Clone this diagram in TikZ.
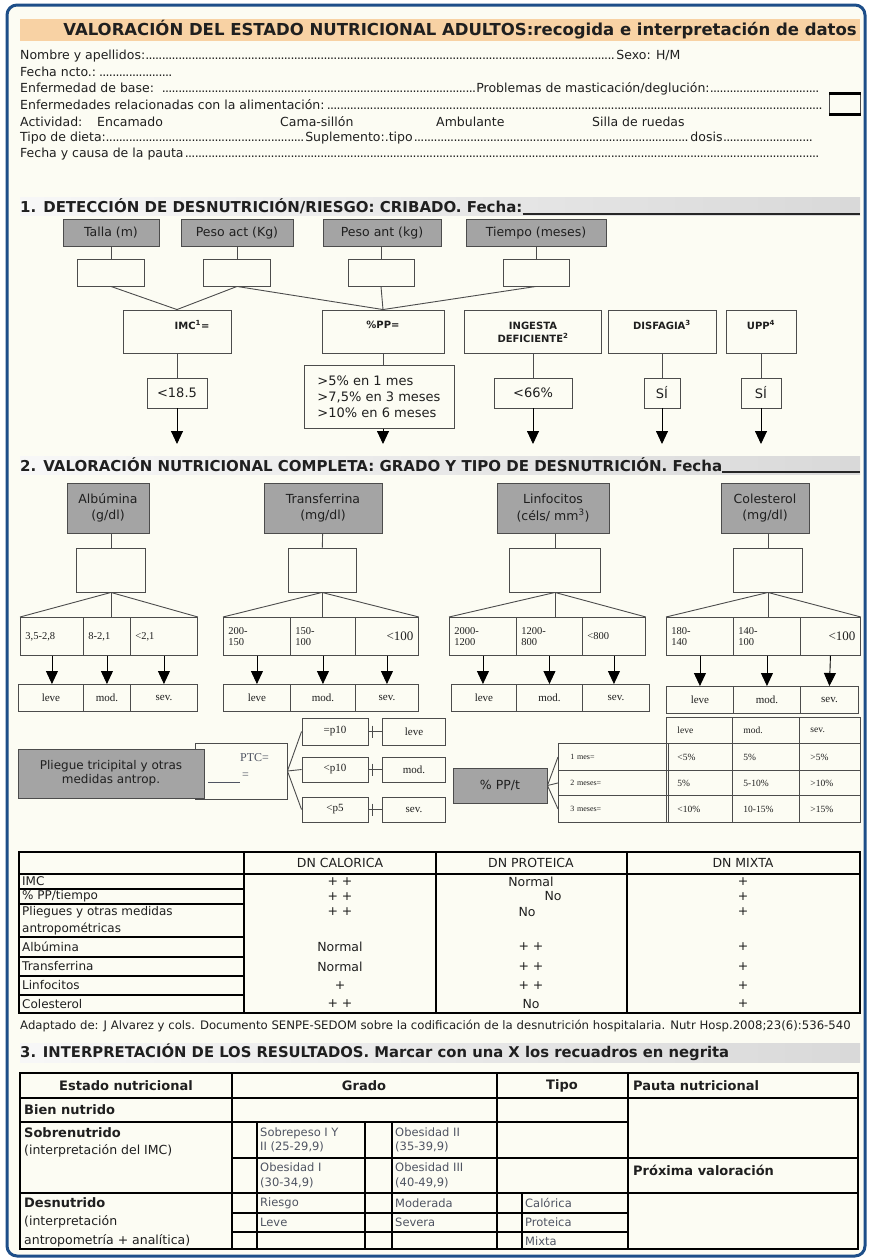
\documentclass[tikz,border=0pt]{standalone}
\usepackage{fontspec}
\setmainfont{DejaVu Sans}
\newfontfamily\tnr{Liberation Serif}
\usetikzlibrary{arrows.meta}

\definecolor{frameblue}{HTML}{1D4E89}
\definecolor{paper}{HTML}{FCFCF3}
\definecolor{peach}{HTML}{F8D2A4}
\definecolor{boxgray}{HTML}{A4A4A4}
\definecolor{inkgray}{HTML}{4F5462}

\newcommand\fsz[1]{\fontsize{#1}{#1}\selectfont}
\newcommand\dotsto{\leaders\hbox to 3.3pt{\hss.\hss}\hfill}

\begin{document}
\begin{tikzpicture}[x=1pt, y=-1pt, >={Triangle[width=12pt,length=13pt]},
  every node/.style={inner sep=0pt, font=\fsz{12.5}, text=black!88},
  txt/.style={anchor=west},
  gbox/.style={draw=black!70, line width=0.9pt, fill=boxgray, align=center, font=\fsz{12.5}},
  wbox/.style={draw=black!70, line width=0.9pt},
  bhead/.style={anchor=west, font=\bfseries\fsz{15}},
  btxt/.style={font=\bfseries\fsz{10}, align=center},
  rcell/.style={draw=black!70, line width=0.9pt, font=\tnr\fsz{10.5}, align=left, inner xsep=5pt, minimum height=38pt, anchor=north west},
  lcell/.style={draw=black!70, line width=0.9pt, font=\tnr\fsz{11}, minimum height=27pt, anchor=north west},
  qcell/.style={draw=black!70, line width=0.9pt, font=\tnr\fsz{9.5}, align=left, inner xsep=11pt, anchor=north west},
  ln/.style={draw=black!70, line width=0.9pt},
  tri/.style={draw=black, line width=0.9pt, ->},
  tab/.style={draw=black, line width=2pt},
  thin/.style={draw=black, line width=1.2pt},
  gtxt/.style={anchor=west, align=left, font=\fsz{11.5}, text=inkgray},
]
% background and frame
\fill[white] (0,0) rectangle (869,1259);
\draw[frameblue, line width=3pt, fill=paper, rounded corners=10pt] (7,5) rectangle (865,1256);
\useasboundingbox (0,0) rectangle (869,1259);

% title and patient data
\fill[peach] (20,19) rectangle (860,41);
\node[anchor=east, font=\bfseries\fsz{16.5}] (titulo) at (857,30) {VALORACIÓN DEL ESTADO NUTRICIONAL ADULTOS:recogida e interpretación de datos};
\node[txt] (nombre) at (20,56) {\makebox[660pt][l]{Nombre y apellidos:\dotsto Sexo: H/M}};
\node[txt] (fncto) at (20,72) {\makebox[155pt][l]{Fecha ncto.:\dotsto}};
\node[txt] (enfbase) at (20,88.5) {\makebox[800pt][l]{\makebox[456pt][l]{Enfermedad de base: \dotsto}Problemas de masticación/deglución:\dotsto}};
\node[txt] (enfrel) at (20,105) {\makebox[802pt][l]{Enfermedades relacionadas con la alimentación:\dotsto}};
\node[txt] (activ) at (20,121.5) {Actividad:};
\node[txt] (encam) at (97,121.5) {Encamado};
\node[txt] (cama) at (280,121.5) {Cama-sillón};
\node[txt] (ambul) at (436,121.5) {Ambulante};
\node[txt] (silla) at (592,121.5) {Silla de ruedas};
\node[txt] (dieta) at (20,138) {\makebox[795pt][l]{\makebox[285pt][l]{Tipo de dieta:\dotsto}\makebox[385pt][l]{Suplemento:.tipo\dotsto}dosis\dotsto}};
\node[txt] (causa) at (20,154.5) {\makebox[800pt][l]{Fecha y causa de la pauta\dotsto}};
\node[draw=black!70, line width=0.8pt, minimum width=31pt, minimum height=20pt] (casilla) at (845,104) {};
\draw[line width=2.5pt] (casilla.north west) -- (casilla.north east);
\draw[line width=2.5pt] (casilla.south west) -- (casilla.south east);

% 1. cribado
\shade[left color=gray!6, right color=gray!30] (20,197) rectangle (860,215);
\node[bhead] (sec1) at (20,206) {1. DETECCIÓN DE DESNUTRICIÓN/RIESGO: CRIBADO. Fecha:};
\coordinate (fin1) at (860,214);
\draw[line width=1.6pt, black!85] (sec1.south east) -- (sec1.south east -| fin1);

\node[gbox, minimum width=96pt, minimum height=27pt] (talla) at (111,233) {Talla (m)};
\node[gbox, minimum width=112pt, minimum height=27pt] (pesoact) at (237,233) {Peso act (Kg)};
\node[gbox, minimum width=118pt, minimum height=27pt] (pesoant) at (382,233) {Peso ant (kg)};
\node[gbox, minimum width=140pt, minimum height=27pt] (tiempo) at (536,233) {Tiempo (meses)};
\node[wbox, minimum width=67pt, minimum height=27pt] (wtalla) at (111,272.5) {};
\node[wbox, minimum width=67pt, minimum height=27pt] (wpesoact) at (237,272.5) {};
\node[wbox, minimum width=66pt, minimum height=27pt] (wpesoant) at (381,272.5) {};
\node[wbox, minimum width=66pt, minimum height=27pt] (wtiempo) at (536,272.5) {};
\draw[ln] (talla) -- (wtalla);
\draw[ln] (pesoact) -- (wpesoact);
\draw[ln] (pesoant.south -| wpesoant) -- (wpesoant);
\draw[ln] (tiempo) -- (wtiempo);

\node[wbox, minimum width=108pt, minimum height=43pt] (imc) at (177,331.5) {};
\node[wbox, minimum width=122pt, minimum height=43pt] (pp) at (383,331.5) {};
\node[wbox, minimum width=137pt, minimum height=43pt] (ingesta) at (533,331.5) {};
\node[wbox, minimum width=108pt, minimum height=43pt] (disfagia) at (662,331.5) {};
\node[wbox, minimum width=70pt, minimum height=43pt] (upp) at (761,331.5) {};
\node[btxt] (imct) at (192,325) {IMC\textsuperscript{1}=};
\node[btxt] (ppt) at (383,325) {\%PP=};
\node[btxt] (ingestat) at (533,332) {INGESTA\\[3pt]DEFICIENTE\textsuperscript{2}};
\node[btxt] (disfagiat) at (662,325) {DISFAGIA\textsuperscript{3}};
\node[btxt] (uppt) at (761,325) {UPP\textsuperscript{4}};
\draw[ln] (wtalla.south) -- (imc.north);
\draw[ln] (wpesoact.south) -- (imc.north);
\draw[ln] (wpesoact.south) -- (pp.north);
\draw[ln] (wpesoant.south) -- (pp.north);
\draw[ln] (wtiempo.south) -- (pp.north);

\node[wbox, minimum width=60pt, minimum height=30pt, font=\fsz{13}] (imcv) at (177,393) {<18.5};
\node[wbox, minimum width=150pt, minimum height=63pt, align=left, font=\fsz{13}] (ppv) at (379,397) {>5\% en 1 mes\\[3pt]>7,5\% en 3 meses\\[3pt]>10\% en 6 meses};
\node[wbox, minimum width=78pt, minimum height=30pt, font=\fsz{13}] (ingestav) at (533,393) {<66\%};
\node[wbox, minimum width=36pt, minimum height=30pt, font=\fsz{13}] (disfagiav) at (662,393) {SÍ};
\node[wbox, minimum width=40pt, minimum height=30pt, font=\fsz{13}] (uppv) at (761,393) {SÍ};
\draw[ln] (imc) -- (imcv);
\draw[ln] (pp.south) -- (pp.south |- ppv.north);
\draw[ln] (ingesta) -- (ingestav);
\draw[ln] (disfagia) -- (disfagiav);
\draw[ln] (upp) -- (uppv);
\coordinate (f1) at (177,444);
\coordinate (f2) at (383,444);
\coordinate (f3) at (533,444);
\coordinate (f4) at (662,444);
\coordinate (f5) at (761,444);
\draw[tri] (imcv) -- (f1);
\draw[tri] (ppv.south -| f2) -- (f2);
\draw[tri] (ingestav) -- (f3);
\draw[tri] (disfagiav) -- (f4);
\draw[tri] (uppv) -- (f5);

% 2. valoracion completa
\shade[left color=gray!6, right color=gray!30] (20,456) rectangle (860,474);
\node[bhead] (sec2) at (20,465) {2. VALORACIÓN NUTRICIONAL COMPLETA: GRADO Y TIPO DE DESNUTRICIÓN. Fecha};
\coordinate (fin2) at (860,473);
\draw[line width=1.6pt, black!85] (sec2.south east) -- (sec2.south east -| fin2);

\node[gbox, minimum width=82pt, minimum height=50pt] (albumina) at (108,508) {Albúmina\\[4pt](g/dl)};
\node[gbox, minimum width=118pt, minimum height=50pt] (transf) at (323,508) {Transferrina\\[4pt](mg/dl)};
\node[gbox, minimum width=112pt, minimum height=50pt] (linfo) at (553,508) {Linfocitos\\[4pt](céls/ mm\textsuperscript{3})};
\node[gbox, minimum width=88pt, minimum height=50pt] (coles) at (765,508) {Colesterol\\[4pt](mg/dl)};
\node[wbox, minimum width=69pt, minimum height=44pt] (walb) at (111,570) {};
\node[wbox, minimum width=68pt, minimum height=44pt] (wtra) at (322,570) {};
\node[wbox, minimum width=91pt, minimum height=44pt] (wlin) at (555,570) {};
\node[wbox, minimum width=69pt, minimum height=44pt] (wcol) at (768,570) {};
\draw[ln] (albumina.south -| walb) -- (walb);
\draw[ln] (transf) -- (wtra);
\draw[ln] (linfo.south -| wlin) -- (wlin);
\draw[ln] (coles.south -| wcol) -- (wcol);

% rangos
\node[rcell, text width=53pt] (ra1) at (20,617) {3,5-2,8};
\node[rcell, text width=37pt] (ra2) at (83,617) {8-2,1};
\node[rcell, text width=57pt] (ra3) at (130,617) {<2,1};
\node[rcell, text width=57pt] (rt1) at (223,617) {200-\\150};
\node[rcell, text width=55pt] (rt2) at (290,617) {150-\\100};
\node[rcell, text width=53pt, font=\tnr\fsz{13}] (rt3) at (355,617) {\hfill<100};
\node[rcell, text width=57pt] (rl1) at (449,617) {2000-\\1200};
\node[rcell, text width=56pt] (rl2) at (516,617) {1200-\\800};
\node[rcell, text width=53pt] (rl3) at (582,617) {<800};
\node[rcell, text width=57pt] (rc1) at (666,617) {180-\\140};
\node[rcell, text width=57pt] (rc2) at (733,617) {140-\\100};
\node[rcell, text width=50pt, font=\tnr\fsz{13}] (rc3) at (800,617) {\hfill<100};
\draw[ln] (walb.south) -- (ra1.north west);
\draw[ln] (walb.south) -- (walb.south |- ra2.north);
\draw[ln] (walb.south) -- (ra3.north east);
\draw[ln] (wtra.south) -- (rt1.north west);
\draw[ln] (wtra.south) -- (wtra.south |- rt2.north);
\draw[ln] (wtra.south) -- (rt3.north east);
\draw[ln] (wlin.south) -- (rl1.north west);
\draw[ln] (wlin.south) -- (wlin.south |- rl2.north);
\draw[ln] (wlin.south) -- (rl3.north east);
\draw[ln] (wcol.south) -- (rc1.north west);
\draw[ln] (wcol.south) -- (wcol.south |- rc2.north);
\draw[ln] (wcol.south) -- (rc3.north east);

% grados
\node[lcell, minimum width=65pt] (ga1) at (18,684) {leve};
\node[lcell, minimum width=47pt] (ga2) at (83,684) {mod.};
\node[lcell, minimum width=67pt] (ga3) at (130,684) {sev.};
\node[lcell, minimum width=67pt] (gt1) at (223,684) {leve};
\node[lcell, minimum width=65pt] (gt2) at (290,684) {mod.};
\node[lcell, minimum width=63pt] (gt3) at (355,684) {sev.};
\node[lcell, minimum width=65pt] (gl1) at (451,684) {leve};
\node[lcell, minimum width=66pt] (gl2) at (516,684) {mod.};
\node[lcell, minimum width=67pt] (gl3) at (582,684) {sev.};
\node[lcell, minimum width=67pt] (gc1) at (666,686) {leve};
\node[lcell, minimum width=67pt] (gc2) at (733,686) {mod.};
\node[lcell, minimum width=58pt] (gc3) at (800,686) {sev.};
\draw[tri] (ra1.south) -- (ra1.south |- ga1.north);
\draw[tri] (ra2.south) -- (ra2.south |- ga2.north);
\draw[tri] (ra3.south) -- (ra3.south |- ga3.north);
\draw[tri] (rt1.south) -- (gt1.north);
\draw[tri] (rt2.south) -- (gt2.north);
\draw[tri] (rt3.south) -- (gt3.north);
\draw[tri] (rl1.south) -- (rl1.south |- gl1.north);
\draw[tri] (rl2.south) -- (gl2.north);
\draw[tri] (rl3.south) -- (rl3.south |- gl3.north);
\draw[tri] (rc1.south) -- (gc1.north);
\draw[tri] (rc2.south) -- (gc2.north);
\draw[tri] (rc3.south) -- (gc3.north);

% pliegue tricipital
\node[wbox, minimum width=92pt, minimum height=56pt] (ptc) at (241,771) {};
\node[gbox, minimum width=186pt, minimum height=49pt, font=\fsz{12}] (pliegue) at (111,773.5) {Pliegue tricipital y otras\\[2pt]medidas antrop.};
\node[anchor=west, font=\tnr\fsz{12}, text=inkgray] (ptct) at (240,758) {PTC=};
\node[anchor=west, font=\tnr\fsz{12}, text=inkgray] (ptcr) at (208,778) {\rule[-4pt]{32pt}{0.7pt}\,=};
\node[wbox, minimum width=66pt, minimum height=27pt, font=\tnr\fsz{11}] (p10a) at (335,731.5) {=p10};
\node[wbox, minimum width=66pt, minimum height=25pt, font=\tnr\fsz{11}] (p10b) at (335,769.5) {<p10};
\node[wbox, minimum width=66pt, minimum height=25pt, font=\tnr\fsz{11}] (p5) at (335,809.5) {<p5};
\node[wbox, minimum width=63pt, minimum height=27pt, font=\tnr\fsz{11}] (pleve) at (414,731.5) {leve};
\node[wbox, minimum width=63pt, minimum height=25pt, font=\tnr\fsz{11}] (pmod) at (414,769.5) {mod.};
\node[wbox, minimum width=63pt, minimum height=25pt, font=\tnr\fsz{11}] (psev) at (414,809.5) {sev.};
\draw[ln] (ptc.east) -- (p10a.west);
\draw[ln] (ptc.east) -- (p10b.west);
\draw[ln] (ptc.east) -- (p5.west);
\draw[ln] (p10a) -- (pleve);
\draw[ln] (p10b) -- (pmod);
\draw[ln] (p5) -- (psev);
\draw[ln] ([xshift=4pt]p10a.east) ++(0,-6) -- ++(0,12);
\draw[ln] ([xshift=4pt]p10b.east) ++(0,-6) -- ++(0,12);
\draw[ln] ([xshift=4pt]p5.east) ++(0,-6) -- ++(0,12);

% perdida de peso / tiempo
\node[gbox, minimum width=94pt, minimum height=35pt, font=\fsz{12.5}] (ppt) at (500,785.5) {\% PP/t};
\node[qcell, minimum width=108pt, minimum height=27pt, text width=86pt, inner xsep=12pt, font=\tnr\fsz{8}] (mes1) at (558,743) {1 mes=};
\node[qcell, minimum width=108pt, minimum height=25pt, text width=86pt, inner xsep=12pt, font=\tnr\fsz{8}] (mes2) at (558,770) {2 meses=};
\node[qcell, minimum width=108pt, minimum height=27pt, text width=86pt, inner xsep=12pt, font=\tnr\fsz{8}] (mes3) at (558,795) {3 meses=};
\draw[ln] (ppt.east) -- (mes1.west);
\draw[ln] (ppt.east) -- (mes2.west);
\draw[ln] (ppt.east) -- (mes3.west);
\node[qcell, minimum height=26pt, text width=44pt] (qh1) at (666,717) {leve};
\node[qcell, minimum height=26pt, text width=45pt] (qh2) at (732,717) {mod.};
\node[qcell, minimum height=26pt, text width=39pt] (qh3) at (799,717) {sev.};
\node[qcell, minimum height=27pt, text width=44pt] (q11) at (666,743) {<5\%};
\node[qcell, minimum height=27pt, text width=45pt] (q12) at (732,743) {5\%};
\node[qcell, minimum height=27pt, text width=39pt] (q13) at (799,743) {>5\%};
\node[qcell, minimum height=25pt, text width=44pt] (q21) at (666,770) {5\%};
\node[qcell, minimum height=25pt, text width=45pt] (q22) at (732,770) {5-10\%};
\node[qcell, minimum height=25pt, text width=39pt] (q23) at (799,770) {>10\%};
\node[qcell, minimum height=27pt, text width=44pt] (q31) at (666,795) {<10\%};
\node[qcell, minimum height=27pt, text width=45pt] (q32) at (732,795) {10-15\%};
\node[qcell, minimum height=27pt, text width=39pt] (q33) at (799,795) {>15\%};

% tabla de tipos de desnutricion
\draw[tab] (19,852) rectangle (860,1013);
\draw[tab] (244,852) -- (244,1013);
\draw[tab] (436,852) -- (436,1013);
\draw[tab] (627,852) -- (627,1013);
\draw[tab] (19,874) -- (860,874);
\draw[thin] (19,889) -- (244,889);
\draw[thin] (19,904) -- (244,904);
\draw[thin] (19,937) -- (244,937);
\draw[thin] (19,957) -- (244,957);
\draw[thin] (19,976) -- (244,976);
\draw[thin] (19,995) -- (244,995);
\node[font=\fsz{12.5}] (dncal) at (340,863) {DN CALORICA};
\node[font=\fsz{12.5}] (dnpro) at (531,863) {DN PROTEICA};
\node[font=\fsz{12.5}] (dnmix) at (743,863) {DN MIXTA};
\node[txt, font=\fsz{12}] (timc) at (22,881.5) {IMC};
\node[txt, font=\fsz{12}] (tpp) at (22,896.5) {\% PP/tiempo};
\node[txt, font=\fsz{12}, align=left] (tpli) at (22,920.5) {Pliegues y otras medidas\\[4pt]antropométricas};
\node[txt, font=\fsz{12}] (talb) at (22,947) {Albúmina};
\node[txt, font=\fsz{12}] (ttra) at (22,966.5) {Transferrina};
\node[txt, font=\fsz{12}] (tlin) at (22,985.5) {Linfocitos};
\node[txt, font=\fsz{12}] (tcol) at (22,1004) {Colesterol};
\node[font=\fsz{12.5}] (c1) at (340,881.5) {+ +};
\node[font=\fsz{12.5}] (c2) at (340,896.5) {+ +};
\node[font=\fsz{12.5}] (c3) at (340,912) {+ +};
\node[font=\fsz{12.5}] (c4) at (340,947) {Normal};
\node[font=\fsz{12.5}] (c5) at (340,966.5) {Normal};
\node[font=\fsz{12.5}] (c6) at (340,985.5) {+};
\node[font=\fsz{12.5}] (c7) at (340,1004) {+ +};
\node[font=\fsz{12.5}] (p1) at (531,881.5) {Normal};
\node[font=\fsz{12.5}] (p2) at (553,896.5) {No};
\node[font=\fsz{12.5}] (p3) at (527,912) {No};
\node[font=\fsz{12.5}] (p4) at (531,947) {+ +};
\node[font=\fsz{12.5}] (p5) at (531,966.5) {+ +};
\node[font=\fsz{12.5}] (p6) at (531,985.5) {+ +};
\node[font=\fsz{12.5}] (p7) at (531,1004) {No};
\node[font=\fsz{12.5}] (m1) at (743,881.5) {+};
\node[font=\fsz{12.5}] (m2) at (743,896.5) {+};
\node[font=\fsz{12.5}] (m3) at (743,912) {+};
\node[font=\fsz{12.5}] (m4) at (743,947) {+};
\node[font=\fsz{12.5}] (m5) at (743,966.5) {+};
\node[font=\fsz{12.5}] (m6) at (743,985.5) {+};
\node[font=\fsz{12.5}] (m7) at (743,1004) {+};
\node[txt, font=\fsz{11.7}] (fuente) at (20,1026) {Adaptado de: J Alvarez y cols. Documento SENPE-SEDOM sobre la codificación de la desnutrición hospitalaria. Nutr Hosp.2008;23(6):536-540};

% 3. interpretacion
\shade[left color=gray!6, right color=gray!30] (20,1043) rectangle (860,1062);
\node[bhead, font=\bfseries\fsz{14.8}] (sec3) at (20,1052.5) {3. INTERPRETACIÓN DE LOS RESULTADOS. Marcar con una X los recuadros en negrita};
\draw[tab] (20,1073) rectangle (858,1249);
\draw[tab] (232,1073) -- (232,1249);
\draw[tab] (497,1073) -- (497,1249);
\draw[tab] (628,1073) -- (628,1249);
\draw[tab] (20,1098) -- (858,1098);
\draw[tab] (20,1122) -- (628,1122);
\draw[tab] (232,1158) -- (858,1158);
\draw[tab] (20,1193) -- (858,1193);
\draw[thin] (232,1213) -- (628,1213);
\draw[thin] (232,1232) -- (628,1232);
\draw[tab] (257,1122) -- (257,1249);
\draw[tab] (365,1122) -- (365,1249);
\draw[tab] (392,1122) -- (392,1249);
\draw[tab] (522,1193) -- (522,1249);
\node[font=\bfseries\fsz{13}] (hestado) at (126,1086) {Estado nutricional};
\node[font=\bfseries\fsz{13}] (hgrado) at (364,1086) {Grado};
\node[font=\bfseries\fsz{13}] (htipo) at (562,1086) {Tipo};
\node[txt, font=\bfseries\fsz{13}] (hpauta) at (633,1086) {Pauta nutricional};
\node[txt, font=\bfseries\fsz{13}] (bien) at (24,1110) {Bien nutrido};
\node[txt, font=\bfseries\fsz{13}] (sobre) at (24,1133) {Sobrenutrido};
\node[txt, font=\fsz{12.5}] (sobrei) at (24,1151) {(interpretación del IMC)};
\node[txt, font=\bfseries\fsz{13}] (proxima) at (633,1170) {Próxima valoración};
\node[txt, font=\bfseries\fsz{13}] (desn) at (24,1203) {Desnutrido};
\node[txt, font=\fsz{12.5}, align=left] (desni) at (24,1231) {(interpretación\\[5pt]antropometría + analítica)};
\node[gtxt] (sp) at (260,1140) {Sobrepeso I Y\\[3pt]II (25-29,9)};
\node[gtxt] (ob2) at (395,1140) {Obesidad II\\[3pt](35-39,9)};
\node[gtxt] (ob1) at (260,1175.5) {Obesidad I\\[3pt](30-34,9)};
\node[gtxt] (ob3) at (395,1175.5) {Obesidad III\\[3pt](40-49,9)};
\node[gtxt] (riesgo) at (260,1203) {Riesgo};
\node[gtxt] (moder) at (395,1203) {Moderada};
\node[gtxt] (calor) at (525,1203) {Calórica};
\node[gtxt] (leve) at (260,1222.5) {Leve};
\node[gtxt] (severa) at (395,1222.5) {Severa};
\node[gtxt] (prote) at (525,1222.5) {Proteica};
\node[gtxt] (mixta) at (525,1241) {Mixta};
\end{tikzpicture}
\end{document}
